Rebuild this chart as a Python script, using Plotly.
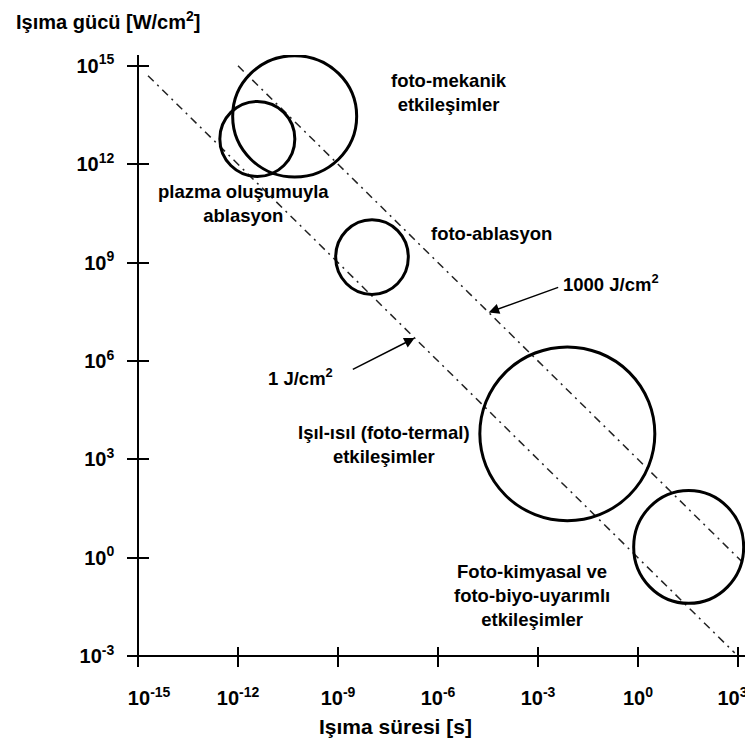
import math
import plotly.graph_objects as go

# ---------------- data ----------------
# axis ticks (log10 exponents)
x_tick_exp = [-15, -12, -9, -6, -3, 0, 3]
y_tick_exp = [-3, 0, 3, 6, 9, 12, 15]
NB = "\u00a0"
x_tick_text = [NB * 4 + "10<sup>-15</sup>", "10<sup>-12</sup>", "10<sup>-9</sup>", "10<sup>-6</sup>",
               "10<sup>-3</sup>", "10<sup>0</sup>", "10<sup>3</sup>" + NB * 2]
y_tick_text = ["10<sup>-3</sup>", "10<sup>0</sup>", "10<sup>3</sup>", "10<sup>6</sup>",
               "10<sup>9</sup>", "10<sup>12</sup>", "10<sup>15</sup>"]

# constant energy-density lines (J/cm²) and exposure-time spans (log10 s)
fluence = [1, 1000]
fluence_text = ["1 J/cm<sup>2</sup>", "1000 J/cm<sup>2</sup>"]
line_t_start_exp = [-14.7, -12.0]
line_t_end_exp = [2.9, 3.6]
# where the label arrows touch the lines (log10 s) and label positions (log10 s, log10 W/cm²)
arrow_head_t_exp = [-6.70, -4.48]
arrow_tail_t_exp = [-8.60, -2.35]
arrow_tail_p_exp = [5.72, 8.26]
fluence_label_t_exp = [-10.12, -0.82]
fluence_label_p_exp = [5.51, 8.38]

# interaction regions: centre (log10 s, log10 W/cm²) and half extents (decades)
region_text = ["foto-mekanik<br>etkileşimler",
               "plazma oluşumuyla<br>ablasyon",
               "foto-ablasyon",
               "Işıl-ısıl (foto-termal)<br>etkileşimler",
               "Foto-kimyasal ve<br>foto-biyo-uyarımlı<br>etkileşimler"]
region_t_exp = [-10.30, -11.42, -7.98, -2.12, 1.52]
region_p_exp = [13.46, 12.77, 9.17, 3.78, 0.33]
region_t_half = [1.86, 1.125, 1.09, 2.625, 1.65]
region_p_half = [1.85, 1.144, 1.14, 2.65, 1.72]
region_label_t_exp = [-5.66, -11.83, -4.39, -7.61, -3.17]
region_label_p_exp = [14.19, 10.80, 9.90, 3.44, -1.14]

x_title = "Işıma süresi [s]"
y_title = "Işıma gücü [W/cm<sup>2</sup>]"

# ---------------- figure ----------------
FONT = "Liberation Sans, Arial, sans-serif"
x_range = [-15.33, 3.45]
y_range = [-3.30, 15.33]
x_pos = (y_tick_exp[0] - y_range[0]) / (y_range[1] - y_range[0])   # x axis crosses at 10^-3
y_pos = (x_tick_exp[0] - x_range[0]) / (x_range[1] - x_range[0])   # y axis crosses at 10^-15

fig = go.Figure()

for E, t0, t1 in zip(fluence, line_t_start_exp, line_t_end_exp):
    ts = [10 ** t0, 10 ** t1]
    fig.add_trace(go.Scatter(
        x=ts, y=[E / t for t in ts], mode="lines",
        line=dict(color="#222222", width=1.5, dash="8px,5px,2px,5px"),
        showlegend=False, hoverinfo="skip"))

# invisible trace to activate overlay axes (for crossing ticks)
fig.add_trace(go.Scatter(x=[1e-15], y=[1e-3], xaxis="x2", yaxis="y2", mode="markers",
                         marker=dict(opacity=0), showlegend=False, hoverinfo="skip"))

for tc, pc, th, ph in zip(region_t_exp, region_p_exp, region_t_half, region_p_half):
    fig.add_shape(type="circle", xref="x", yref="y",
                  x0=10 ** (tc - th), x1=10 ** (tc + th),
                  y0=10 ** (pc - ph), y1=10 ** (pc + ph),
                  line=dict(color="black", width=3), fillcolor="rgba(0,0,0,0)")

label_font = dict(family=FONT, size=18.5, color="black", weight="bold")
annotations = []
for txt, lt, lp in zip(region_text, region_label_t_exp, region_label_p_exp):
    annotations.append(dict(x=lt, y=lp, xref="x", yref="y", text=txt, showarrow=False,
                            align="center", xanchor="center", yanchor="middle", font=label_font))

for E, txt, ht, tt, tp, lt, lp in zip(fluence, fluence_text, arrow_head_t_exp, arrow_tail_t_exp,
                                     arrow_tail_p_exp, fluence_label_t_exp, fluence_label_p_exp):
    hp = math.log10(E) - ht
    annotations.append(dict(x=ht, y=hp, ax=tt, ay=tp, xref="x", yref="y", axref="x", ayref="y",
                            text="", showarrow=True, arrowhead=2, arrowsize=1.4, arrowwidth=1.5,
                            arrowcolor="black"))
    annotations.append(dict(x=lt, y=lp, xref="x", yref="y", text=txt, showarrow=False,
                            xanchor="center", yanchor="middle", font=label_font))

annotations.append(dict(x=0.4297, y=-0.0998, xref="paper", yref="paper", text=x_title,
                        showarrow=False, xanchor="center", yanchor="middle",
                        font=dict(family=FONT, size=21, color="black", weight="bold")))
annotations.append(dict(x=-0.1805, y=1.056, xref="paper", yref="paper", text=y_title,
                        showarrow=False, xanchor="left", yanchor="middle",
                        font=dict(family=FONT, size=20, color="black", weight="bold")))

tickfont = dict(family=FONT, size=20, color="black", weight="bold")
common_x = dict(type="log", range=x_range, tickvals=[10 ** e for e in x_tick_exp],
                showgrid=False, zeroline=False, anchor="free", position=x_pos,
                tickwidth=1.5, tickcolor="black", automargin=False)
common_y = dict(type="log", range=y_range, tickvals=[10 ** e for e in y_tick_exp],
                showgrid=False, zeroline=False, anchor="free", position=y_pos,
                tickwidth=1.5, tickcolor="black", automargin=False)

# the page body has an 8px margin, so the figure is drawn 8px smaller and offset
fig.update_layout(
    width=745, height=734, autosize=False,
    margin=dict(l=119, r=0, t=47, b=76, autoexpand=False),
    paper_bgcolor="white", plot_bgcolor="white",
    showlegend=False,
    xaxis=dict(**common_x, ticktext=x_tick_text, ticks="outside", ticklen=10,
               showline=True, linecolor="black", linewidth=1.5,
               tickfont=tickfont, ticklabeloverflow="allow", ticklabelstandoff=14),
    yaxis=dict(**common_y, ticktext=y_tick_text, ticks="outside", ticklen=10,
               showline=True, linecolor="black", linewidth=1.5,
               tickfont=tickfont, ticklabelstandoff=9),
    xaxis2=dict(**common_x, overlaying="x", ticks="inside", ticklen=9, showline=False,
                showticklabels=False),
    yaxis2=dict(**common_y, overlaying="y", ticks="inside", ticklen=10, showline=False,
                showticklabels=False),
    annotations=annotations,
)

fig.write_html("out.html")
